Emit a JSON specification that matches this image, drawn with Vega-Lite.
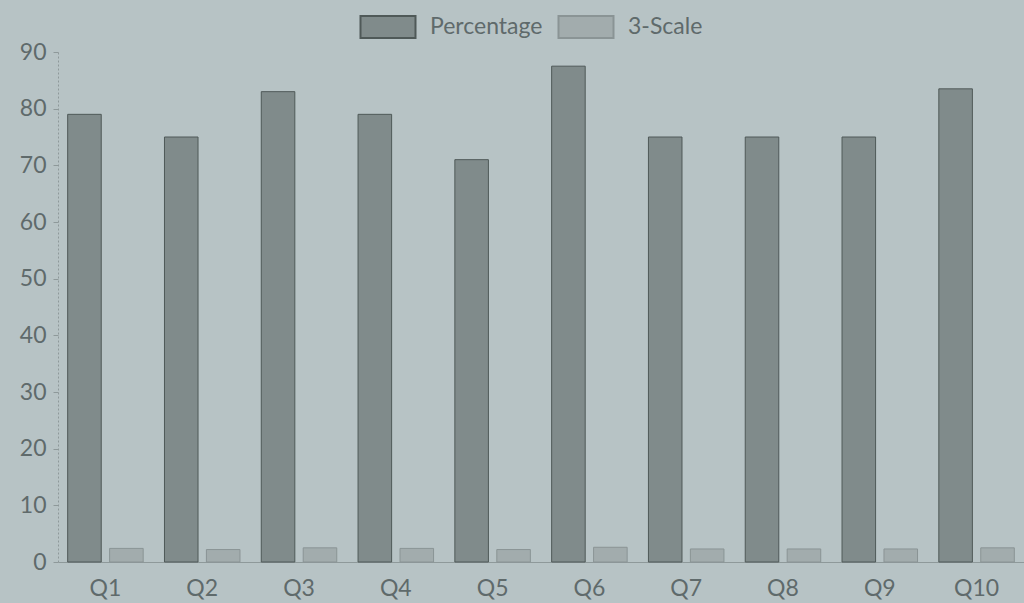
{
  "$schema": "https://vega.github.io/schema/vega-lite/v6.json",
  "autosize": {"type": "none"},
  "width": 966,
  "height": 510,
  "padding": {"left": 58, "top": 52, "right": 0, "bottom": 41},
  "background": "#b7c3c5",
  "config": {
    "view": {"stroke": null},
    "font": "Lato",
    "axis": {"labelFont": "Lato", "labelColor": "#5f6a6b", "labelFontSize": 23, "grid": false, "domainColor": "#8e999a", "tickColor": "#8e999a"},
    "legend": {"labelFont": "Lato", "labelColor": "#5f6a6b", "labelFontSize": 23}
  },
  "data": {
    "values": [
      {"q": "Q1", "series": "Percentage", "value": 79},
      {"q": "Q2", "series": "Percentage", "value": 75},
      {"q": "Q3", "series": "Percentage", "value": 83},
      {"q": "Q4", "series": "Percentage", "value": 79},
      {"q": "Q5", "series": "Percentage", "value": 71},
      {"q": "Q6", "series": "Percentage", "value": 87.5},
      {"q": "Q7", "series": "Percentage", "value": 75},
      {"q": "Q8", "series": "Percentage", "value": 75},
      {"q": "Q9", "series": "Percentage", "value": 75},
      {"q": "Q10", "series": "Percentage", "value": 83.5},
      {"q": "Q1", "series": "3-Scale", "value": 2.4},
      {"q": "Q2", "series": "3-Scale", "value": 2.2},
      {"q": "Q3", "series": "3-Scale", "value": 2.5},
      {"q": "Q4", "series": "3-Scale", "value": 2.4},
      {"q": "Q5", "series": "3-Scale", "value": 2.2},
      {"q": "Q6", "series": "3-Scale", "value": 2.6},
      {"q": "Q7", "series": "3-Scale", "value": 2.3},
      {"q": "Q8", "series": "3-Scale", "value": 2.3},
      {"q": "Q9", "series": "3-Scale", "value": 2.3},
      {"q": "Q10", "series": "3-Scale", "value": 2.5}
    ]
  },
  "mark": {"type": "bar", "strokeWidth": 1},
  "encoding": {
    "x": {
      "field": "q", "type": "nominal", "sort": null,
      "scale": {"paddingInner": 0.22, "paddingOuter": 0.1},
      "axis": {"title": null, "labelAngle": 0, "labelPadding": 15, "tickSize": 0}
    },
    "xOffset": {
      "field": "series", "type": "nominal",
      "scale": {"domain": ["Percentage", "3-Scale"], "paddingInner": 0.2}
    },
    "y": {
      "field": "value", "type": "quantitative",
      "scale": {"domain": [0, 90]},
      "axis": {"title": null, "values": [0, 10, 20, 30, 40, 50, 60, 70, 80, 90], "tickSize": 5, "labelPadding": 7, "domainDash": [2, 2]}
    },
    "color": {
      "field": "series", "type": "nominal",
      "scale": {"domain": ["Percentage", "3-Scale"], "range": ["#808b8b", "#a2acad"]},
      "legend": {
        "title": null, "orient": "none", "legendX": 318, "legendY": -37, "direction": "horizontal",
        "symbolType": "M-2.5,-1H2.5V1H-2.5Z", "symbolSize": 484, "symbolOpacity": 1,
        "symbolStrokeWidth": 2, "labelOffset": 30, "columnPadding": 11
      }
    },
    "stroke": {
      "field": "series", "type": "nominal",
      "scale": {"domain": ["Percentage", "3-Scale"], "range": ["#4f5958", "#8a9495"]},
      "legend": null
    }
  }
}
